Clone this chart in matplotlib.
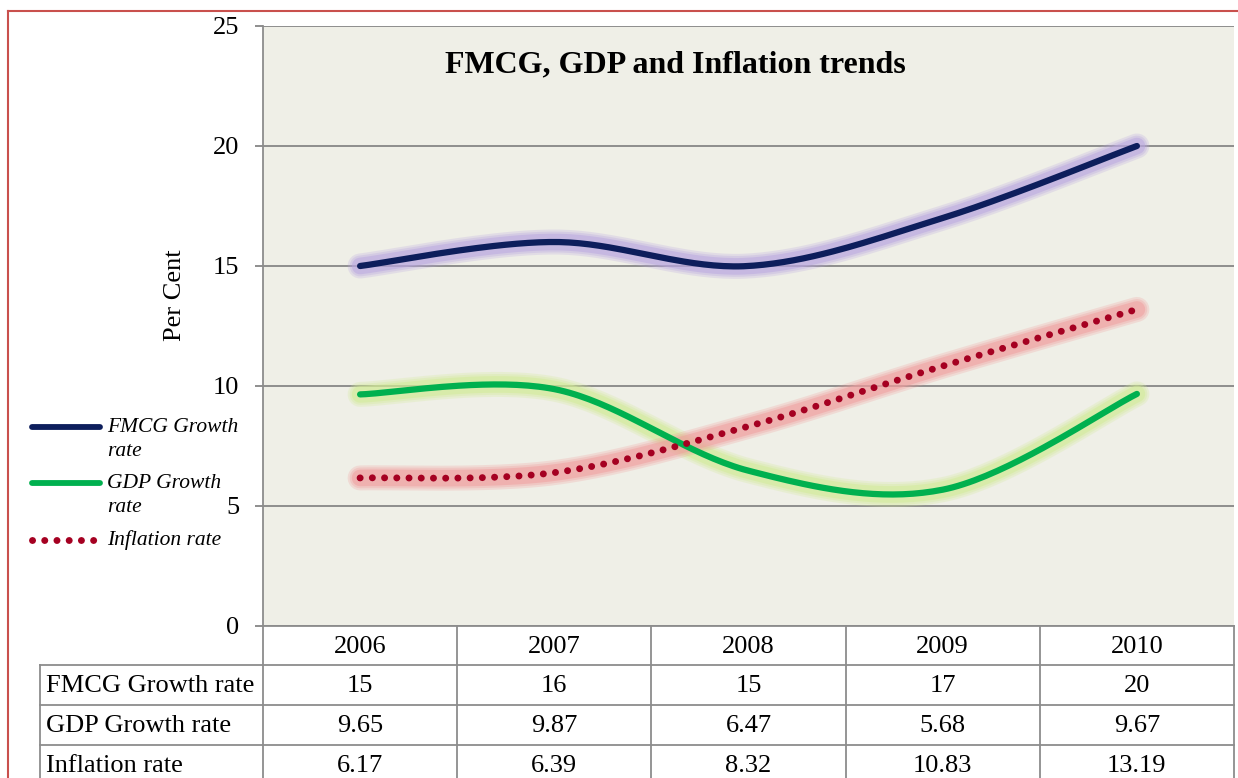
import numpy as np
import matplotlib.pyplot as plt
from matplotlib.lines import Line2D

plt.rcParams['font.family'] = ['Liberation Serif', 'DejaVu Serif']

# Data
years = ['2006', '2007', '2008', '2009', '2010']
fmcg = [15, 16, 15, 17, 20]
gdp = [9.65, 9.87, 6.47, 5.68, 9.67]
inflation = [6.17, 6.39, 8.32, 10.83, 13.19]
fmcg_txt = ['15', '16', '15', '17', '20']
gdp_txt = ['9.65', '9.87', '6.47', '5.68', '9.67']
infl_txt = ['6.17', '6.39', '8.32', '10.83', '13.19']
row_names = ['FMCG Growth rate', 'GDP Growth rate', 'Inflation rate']

W_PX, H_PX = 1238, 778


def fx(px):
    return px / W_PX


def fy(py):
    return 1 - py / H_PX


def smooth(xs, ys, n=40):
    # Excel style smoothed line (bezier through each point)
    p = np.column_stack([xs, ys]).astype(float)
    ext = np.vstack([p[0], p, p[-1]])
    out = []
    t = np.linspace(0, 1, n)[:, None]
    for i in range(len(p) - 1):
        p0, p1 = ext[i + 1], ext[i + 2]
        c1 = p0 + (ext[i + 2] - ext[i]) / 6
        c2 = p1 - (ext[i + 3] - ext[i + 1]) / 6
        seg = ((1 - t) ** 3) * p0 + 3 * ((1 - t) ** 2) * t * c1 + 3 * (1 - t) * t ** 2 * c2 + t ** 3 * p1
        out.append(seg if i == 0 else seg[1:])
    out = np.vstack(out)
    return out[:, 0], out[:, 1]


fig = plt.figure(figsize=(12.38, 7.78), dpi=100)
ax_l, ax_r, ax_t, ax_b = 263, 1234, 26, 626
ax = fig.add_axes([fx(ax_l), fy(ax_b), fx(ax_r) - fx(ax_l), fy(ax_t) - fy(ax_b)])
ax.set_facecolor('#efefe7')

dots = (0, (0.01, 1.75))
x = np.arange(len(years))
series = [
    (fmcg, '#0d1e5c', '#b9a6e0', '-'),
    (gdp, '#00b04f', '#d2eb96', '-'),
    (inflation, '#a50021', '#ef9d9d', ':'),
]
for vals, col, glow, ls in series:
    sx, sy = smooth(x, vals)
    for w, a in [(18, 0.25), (15, 0.3), (12, 0.5)]:
        ax.plot(sx, sy, color=glow, lw=w, alpha=a, solid_capstyle='round', zorder=2)
for vals, col, glow, ls in series:
    sx, sy = smooth(x, vals)
    if ls == ':':
        ax.plot(sx, sy, color=col, lw=5, linestyle=dots,
                dash_capstyle='round', zorder=3)
    else:
        ax.plot(sx, sy, color=col, lw=4.5, solid_capstyle='round', zorder=3)

ax.set_xlim(-0.5, len(years) - 0.5)
ax.set_ylim(0, 25)
ax.set_yticks([0, 5, 10, 15, 20, 25])
ax.set_xticks([])
ax.yaxis.grid(True, color='#868686', lw=1.3)
ax.set_axisbelow(True)
for s in ['top', 'right', 'bottom']:
    ax.spines[s].set_visible(False)
ax.spines['left'].set_color('#8c8c8c')
ax.spines['left'].set_linewidth(1.3)
ax.tick_params(axis='y', length=6, width=1.3, color='#868686', pad=11, labelsize=19)
fig.text(fx(175), fy(295), 'Per Cent', rotation=90, ha='center', va='center', fontsize=19)

ax.text(0.425, 0.935, 'FMCG, GDP and Inflation trends', transform=ax.transAxes,
        ha='center', va='center', fontsize=23, fontweight='bold')

# data table below the axes
gray = '#8c8c8c'
col_edges = [ax_l + k * (ax_r - ax_l) / len(years) for k in range(len(years) + 1)]
row_y = [626, 665, 705, 745, 785]
tbl_left = 40


def hline(px0, px1, py):
    fig.add_artist(Line2D([fx(px0), fx(px1)], [fy(py), fy(py)], color=gray, lw=1.3,
                          transform=fig.transFigure))


def vline(px, py0, py1):
    fig.add_artist(Line2D([fx(px), fx(px)], [fy(py0), fy(py1)], color=gray, lw=1.3,
                          transform=fig.transFigure))


hline(ax_l, ax_r, 626)
for yy in row_y[1:4]:
    hline(tbl_left, ax_r, yy)
for xx in col_edges:
    vline(xx, 626, 790)
vline(tbl_left, 665, 790)

for i, yr in enumerate(years):
    cx = (col_edges[i] + col_edges[i + 1]) / 2
    fig.text(fx(cx), fy(647), yr, ha='center', va='center', fontsize=19)
    for r, vals in enumerate([fmcg_txt, gdp_txt, infl_txt]):
        cy = (row_y[r + 1] + row_y[r + 2]) / 2 + 1
        fig.text(fx(cx), fy(cy), vals[i], ha='center', va='center', fontsize=19)
for r, name in enumerate(row_names):
    cy = (row_y[r + 1] + row_y[r + 2]) / 2 + 1
    fig.text(fx(46), fy(cy), name, ha='left', va='center', fontsize=19)

# legend at the left
leg = [('FMCG Growth', 'rate', '#0d1e5c', '-', 427),
       ('GDP Growth', 'rate', '#00b04f', '-', 483),
       ('Inflation rate', None, '#a50021', ':', 540)]
for l1, l2, col, ls, yy in leg:
    if ls == ':':
        fig.add_artist(Line2D([fx(32), fx(100)], [fy(yy), fy(yy)], color=col, lw=5,
                              linestyle=dots, dash_capstyle='round',
                              transform=fig.transFigure))
    else:
        fig.add_artist(Line2D([fx(32), fx(100)], [fy(yy), fy(yy)], color=col, lw=4.2,
                              solid_capstyle='round', transform=fig.transFigure))
    fig.text(fx(107), fy(yy), l1, ha='left', va='center', fontsize=15.5, style='italic')
    if l2:
        fig.text(fx(107), fy(yy + 25), l2, ha='left', va='center', fontsize=15.5, style='italic')

# outer border
fig.add_artist(Line2D([fx(8), fx(8)], [fy(11), 0], color='#c9504d', lw=1.5,
                      transform=fig.transFigure))
fig.add_artist(Line2D([fx(8), 1], [fy(11), fy(11)], color='#c9504d', lw=1.5,
                      transform=fig.transFigure))

fig.savefig('out.png', dpi=100)
